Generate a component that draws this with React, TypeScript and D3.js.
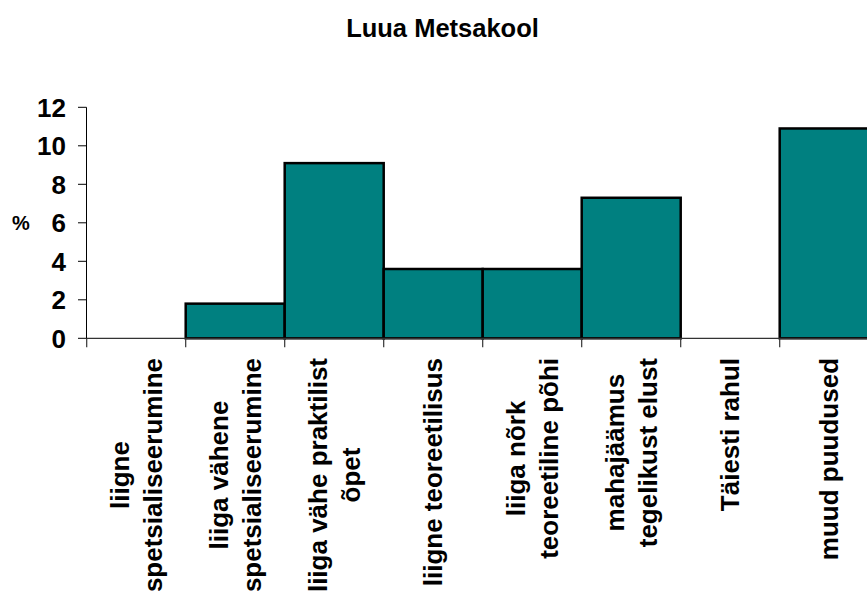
import React, { useMemo } from "react";
import * as d3 from "d3";

const title = "Luua Metsakool";
const categories = [
  ["liigne", "spetsialiseerumine"],
  ["liiga vähene", "spetsialiseerumine"],
  ["liiga vähe praktilist", "õpet"],
  ["liigne teoreetilisus"],
  ["liiga nõrk", "teoreetiline põhi"],
  ["mahajäämus", "tegelikust elust"],
  ["Täiesti rahul"],
  ["muud puudused"],
];
const values = [0, 1.8, 9.1, 3.6, 3.6, 7.3, 0, 10.9];
const yTicks = [0, 2, 4, 6, 8, 10, 12];
const yLabel = "%";

const W = 867;
const H = 594;
const FONT = "'Liberation Sans', Arial, sans-serif";
const FS = 26;

function measure(text: string, size: number): number {
  if (typeof document === "undefined") return text.length * size * 0.55;
  const c = document.createElement("canvas");
  const ctx = c.getContext("2d");
  if (!ctx) return text.length * size * 0.55;
  ctx.font = `bold ${size}px ${FONT}`;
  return ctx.measureText(text).width;
}

export default function App() {
  const x = d3
    .scaleBand<number>()
    .domain(d3.range(categories.length))
    .range([86.7, 86.7 + 99 * categories.length])
    .padding(0);
  const y = d3.scaleLinear().domain([0, 12]).range([338.3, 107.3]);

  const labelWidths = useMemo(
    () => categories.map((lines) => Math.max(...lines.map((l) => measure(l, FS)))),
    []
  );

  const x0 = x(0)!;
  const y0 = y(0);
  const lineH = 33;
  const labelTop = 358;

  return (
    <svg width={W} height={H} style={{ display: "block", position: "absolute", left: 0, top: 0 }}>
      <rect width={W} height={H} fill="#fff" />
      <text
        x={442.5}
        y={37}
        textAnchor="middle"
        fontFamily={FONT}
        fontWeight="bold"
        fontSize={25.5}
      >
        {title}
      </text>

      {/* bars */}
      {values.map((v, i) =>
        v > 0 ? (
          <rect
            key={i}
            x={x(i)!}
            y={y(v)}
            width={x.bandwidth()}
            height={y0 - y(v)}
            fill="#008080"
            stroke="#000"
            strokeWidth={2.5}
          />
        ) : null
      )}

      {/* x axis */}
      <line x1={x0} x2={W} y1={y0} y2={y0} stroke="#333" strokeWidth={1.2} />
      {d3.range(categories.length + 1).map((i) => {
        const xx = x0 + x.step() * i;
        return <line key={i} x1={xx} x2={xx} y1={y0} y2={y0 + 9} stroke="#333" strokeWidth={1.2} />;
      })}

      {/* y axis */}
      <line x1={86.5} x2={86.5} y1={y(12)} y2={y0} stroke="#000" strokeWidth={1} />
      {yTicks.map((t) => (
        <g key={t}>
          <line x1={78} x2={86.5} y1={y(t)} y2={y(t)} stroke="#000" strokeWidth={1} />
          <text
            x={66}
            y={y(t)}
            dy="0.36em"
            textAnchor="end"
            fontFamily={FONT}
            fontWeight="bold"
            fontSize={FS}
          >
            {t}
          </text>
        </g>
      ))}
      <text
        x={21}
        y={y(6)}
        dy="0.36em"
        textAnchor="middle"
        fontFamily={FONT}
        fontWeight="bold"
        fontSize={20}
      >
        {yLabel}
      </text>

      {/* category labels */}
      {categories.map((lines, i) => {
        const cx = x(i)! + x.bandwidth() / 2;
        const w = labelWidths[i];
        const n = lines.length;
        return (
          <g key={i} transform={`translate(${cx},${labelTop}) rotate(-90)`}>
            {lines.map((l, j) => (
              <text
                key={j}
                x={-w / 2}
                y={(j - (n - 1) / 2) * lineH}
                dy="0.35em"
                textAnchor="middle"
                fontFamily={FONT}
                fontWeight="bold"
                fontSize={FS}
              >
                {l}
              </text>
            ))}
          </g>
        );
      })}
    </svg>
  );
}
